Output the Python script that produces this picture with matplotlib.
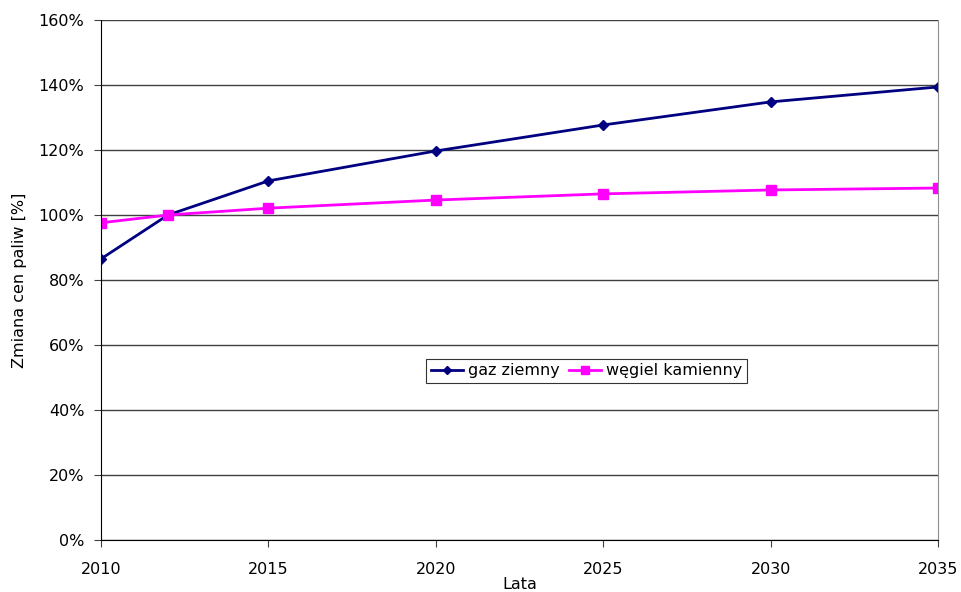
import numpy as np
import matplotlib.pyplot as plt
from matplotlib.ticker import PercentFormatter

# Data
years = [2010, 2012, 2015, 2020, 2025, 2030, 2035]
gaz = [86.5, 100.0, 110.5, 119.7, 127.7, 134.8, 139.4]
wegiel = [97.6, 100.0, 102.1, 104.6, 106.5, 107.7, 108.3]
xticks = [2010, 2015, 2020, 2025, 2030, 2035]
yticks = [0, 20, 40, 60, 80, 100, 120, 140, 160]

plt.rcParams['font.family'] = ['DejaVu Sans']
fig = plt.figure(figsize=(9.61, 5.92), dpi=100)
ax = fig.add_axes([101/961, 52/592, 837/961, 520/592])

ax.plot(years, gaz, marker='D', markersize=5, color='#000080', lw=2, label='gaz ziemny')
ax.plot(years, wegiel, marker='s', markersize=7, color='#FF00FF', lw=2, label='węgiel kamienny')

ax.set_xlim(2010, 2035)
ax.set_ylim(0, 160)
ax.set_xticks(xticks)
ax.set_yticks(yticks)
ax.yaxis.set_major_formatter(PercentFormatter(decimals=0))
ax.grid(axis='y', color='#404040', lw=1)
ax.set_axisbelow(True)
ax.tick_params(labelsize=11.5, direction='out', length=5, color='#404040')
ax.tick_params(axis='x', pad=11)
ax.tick_params(axis='y', pad=7)

ax.spines['top'].set_visible(False)
ax.spines['right'].set_color('#909090')
ax.spines['left'].set_color('black')
ax.spines['bottom'].set_color('black')

ax.set_xlabel('Lata', fontsize=11.5, labelpad=0)
ax.set_ylabel('Zmiana cen paliw [%]', fontsize=11.5, labelpad=8)

leg = ax.legend(loc='center', bbox_to_anchor=(0.58, 0.325), ncol=2, fontsize=11.5,
                frameon=True, fancybox=False, edgecolor='black', handlelength=2,
                handletextpad=0.3, columnspacing=0.6, borderpad=0.3, markerscale=0.8)
leg.get_frame().set_linewidth(0.8)

plt.savefig('out.png', dpi=100)
